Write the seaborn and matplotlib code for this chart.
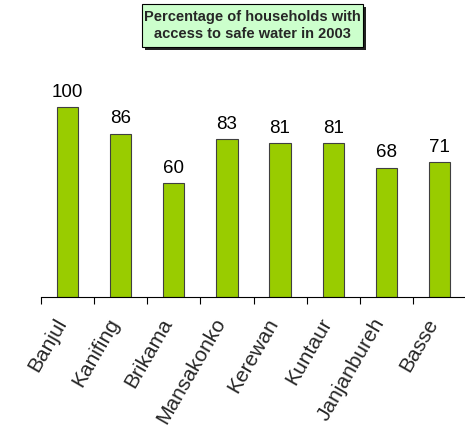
import matplotlib
matplotlib.use("Agg")
import matplotlib.pyplot as plt
import matplotlib.transforms as mtransforms
from matplotlib.patches import Rectangle
import seaborn as sns
import pandas as pd

districts = ["Banjul", "Kanifing", "Brikama", "Mansakonko", "Kerewan",
             "Kuntaur", "Janjanbureh", "Basse"]
safe_water_pct = [100, 86, 60, 83, 81, 81, 68, 71]
title_text = "Percentage of households with\naccess to safe water in 2003"

sns.set_theme(style="white")
plt.rcParams["font.family"] = ["Liberation Sans", "DejaVu Sans"]

df = pd.DataFrame({"district": districts, "pct": safe_water_pct})

W, H = 465, 430
fig = plt.figure(figsize=(W / 100, H / 100), dpi=100)
ax = fig.add_axes([41 / W, 133 / H, 425 / W, 228 / H])

sns.barplot(data=df, x="district", y="pct", color="#99cc00", width=0.4,
            edgecolor="#404040", linewidth=0.8, saturation=1, ax=ax)

# value labels above each bar
for i, v in enumerate(safe_water_pct):
    ax.annotate(f"{v}", xy=(i, v), xytext=(0, 7.5), textcoords="offset points",
                ha="center", va="baseline", fontsize=13.5, color="black")

ax.set_xlim(-0.5, len(districts) - 0.5)
ax.set_ylim(0, 120)
ax.set_xlabel("")
ax.set_ylabel("")
ax.set_yticks([])
for side in ["top", "right", "left"]:
    ax.spines[side].set_visible(False)
ax.spines["bottom"].set_color("black")
ax.spines["bottom"].set_linewidth(0.8)

# category names centred under bars, separator ticks between categories
ax.set_xticks(range(len(districts)))
ax.set_xticklabels(districts, rotation=60, ha="right", va="top",
                   rotation_mode="anchor", fontsize=15)
ax.set_xticks([i - 0.5 for i in range(len(districts) + 1)], minor=True)
ax.tick_params(axis="x", which="major", length=0, pad=0)
ax.tick_params(axis="x", which="minor", length=5, width=0.8, color="black",
               direction="out", bottom=True)
shift = mtransforms.ScaledTranslation(-0.14, -0.18, fig.dpi_scale_trans)
for lbl in ax.get_xticklabels():
    lbl.set_transform(lbl.get_transform() + shift)

# boxed title with drop shadow
bx0, bx1, by0, by1 = 142, 363, 4, 47
fig.patches.append(Rectangle(((bx0 + 3) / W, 1 - (by1 + 3) / H),
                             (bx1 - bx0) / W, (by1 - by0) / H,
                             transform=fig.transFigure, facecolor="#222222",
                             edgecolor="none", zorder=1))
fig.patches.append(Rectangle((bx0 / W, 1 - by1 / H),
                             (bx1 - bx0) / W, (by1 - by0) / H,
                             transform=fig.transFigure, facecolor="#ccffcc",
                             edgecolor="black", linewidth=0.8, zorder=2))
fig.text((bx0 + bx1) / 2 / W, 1 - (by0 + by1) / 2 / H, title_text,
         ha="center", va="center", fontsize=10.5, fontweight="bold",
         linespacing=1.2, zorder=3)

fig.savefig("out.png", dpi=100)
